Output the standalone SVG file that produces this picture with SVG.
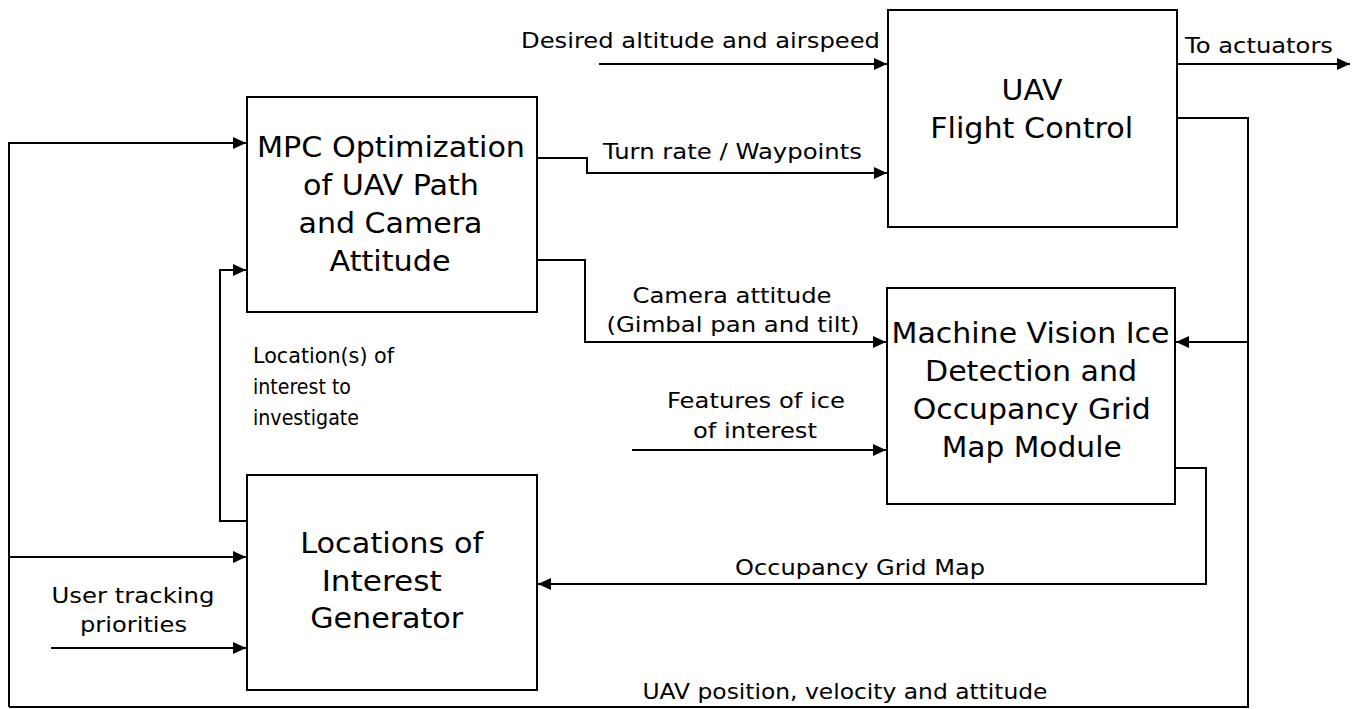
<svg xmlns="http://www.w3.org/2000/svg" width="1353" height="709" viewBox="0 0 1353 709">
<style>
.box{fill:#fff;stroke:#000;stroke-width:2}
.ln{fill:none;stroke:#000;stroke-width:2}
.bt{font-family:"DejaVu Sans",sans-serif;font-size:28px;fill:#000;text-anchor:middle}
.lb{font-family:"DejaVu Sans",sans-serif;font-size:22px;fill:#000;text-anchor:middle}
.ll{font-family:"DejaVu Sans",sans-serif;font-size:22px;fill:#000}
.lq{font-family:"DejaVu Sans",sans-serif;font-size:21px;fill:#000}
</style>
<defs>
<marker id="ah" viewBox="0 0 13 12" refX="13" refY="6" markerWidth="13" markerHeight="12" markerUnits="userSpaceOnUse" orient="auto">
<path d="M0,0 L13,6 L0,12 Z" fill="#000"/>
</marker>
</defs>
<rect width="1353" height="709" fill="#fff"/>
<g id="connectors">
<path class="ln" d="M9,707 L9,143 L246,143" marker-end="url(#ah)"/>
<path class="ln" d="M9,557 L246,557" marker-end="url(#ah)"/>
<path class="ln" d="M51,648 L246,648" marker-end="url(#ah)"/>
<path class="ln" d="M247,521 L220,521 L220,270 L246,270" marker-end="url(#ah)"/>
<path class="ln" d="M599,64 L887,64" marker-end="url(#ah)"/>
<path class="ln" d="M537,158 L587,158 L587,173 L887,173" marker-end="url(#ah)"/>
<path class="ln" d="M1177,64 L1350,64" marker-end="url(#ah)"/>
<path class="ln" d="M1177,118 L1248,118 L1248,707 L9,707"/>
<path class="ln" d="M1248,342 L1176,342" marker-end="url(#ah)"/>
<path class="ln" d="M537,260 L585,260 L585,342 L886,342" marker-end="url(#ah)"/>
<path class="ln" d="M632,450 L886,450" marker-end="url(#ah)"/>
<path class="ln" d="M1175,468 L1206,468 L1206,584 L538,584" marker-end="url(#ah)"/>
<text class="lb" x="700.5" y="48" textLength="359" lengthAdjust="spacingAndGlyphs">Desired altitude and airspeed</text>
<text class="lb" x="732.5" y="159" textLength="259" lengthAdjust="spacingAndGlyphs">Turn rate / Waypoints</text>
<text class="ll" x="1185" y="53" textLength="148" lengthAdjust="spacingAndGlyphs">To actuators</text>
<text class="lb" x="732" y="303" textLength="199" lengthAdjust="spacingAndGlyphs">Camera attitude</text>
<text class="lb" x="733" y="332" textLength="253" lengthAdjust="spacingAndGlyphs">(Gimbal pan and tilt)</text>
<text class="lb" x="756" y="408" textLength="178" lengthAdjust="spacingAndGlyphs">Features of ice</text>
<text class="lb" x="755" y="438" textLength="124" lengthAdjust="spacingAndGlyphs">of interest</text>
<text class="lq" x="253" y="363" textLength="141" lengthAdjust="spacingAndGlyphs">Location(s) of</text>
<text class="lq" x="253" y="394" textLength="98" lengthAdjust="spacingAndGlyphs">interest to</text>
<text class="lq" x="253" y="425" textLength="106" lengthAdjust="spacingAndGlyphs">investigate</text>
<text class="lb" x="133" y="603" textLength="163" lengthAdjust="spacingAndGlyphs">User tracking</text>
<text class="lb" x="133.5" y="632" textLength="107" lengthAdjust="spacingAndGlyphs">priorities</text>
<text class="lb" x="860" y="575" textLength="250" lengthAdjust="spacingAndGlyphs">Occupancy Grid Map</text>
<text class="lb" x="845" y="699" textLength="405" lengthAdjust="spacingAndGlyphs">UAV position, velocity and attitude</text>
</g>
<g id="mpc">
<rect class="box" x="247" y="97" width="290" height="215"/>
<text class="bt" x="391" y="157" textLength="268" lengthAdjust="spacingAndGlyphs">MPC Optimization</text>
<text class="bt" x="391" y="195" textLength="176" lengthAdjust="spacingAndGlyphs">of UAV Path</text>
<text class="bt" x="390.5" y="233" textLength="184" lengthAdjust="spacingAndGlyphs">and Camera</text>
<text class="bt" x="390" y="271" textLength="121" lengthAdjust="spacingAndGlyphs">Attitude</text>
</g>
<g id="flight">
<rect class="box" x="888" y="10" width="289" height="217"/>
<text class="bt" x="1032" y="100" textLength="61" lengthAdjust="spacingAndGlyphs">UAV</text>
<text class="bt" x="1031.7" y="138" textLength="203" lengthAdjust="spacingAndGlyphs">Flight Control</text>
</g>
<g id="vision">
<rect class="box" x="887" y="288" width="288" height="216"/>
<text class="bt" x="1030.5" y="343" textLength="278" lengthAdjust="spacingAndGlyphs">Machine Vision Ice</text>
<text class="bt" x="1031" y="381" textLength="212" lengthAdjust="spacingAndGlyphs">Detection and</text>
<text class="bt" x="1031.7" y="419" textLength="238" lengthAdjust="spacingAndGlyphs">Occupancy Grid</text>
<text class="bt" x="1031.7" y="457" textLength="180" lengthAdjust="spacingAndGlyphs">Map Module</text>
</g>
<g id="locations">
<rect class="box" x="247" y="475" width="290" height="215"/>
<text class="bt" x="391.7" y="553" textLength="183" lengthAdjust="spacingAndGlyphs">Locations of</text>
<text class="bt" x="381.7" y="591" textLength="120" lengthAdjust="spacingAndGlyphs">Interest</text>
<text class="bt" x="386.7" y="628" textLength="153" lengthAdjust="spacingAndGlyphs">Generator</text>
</g>
</svg>
